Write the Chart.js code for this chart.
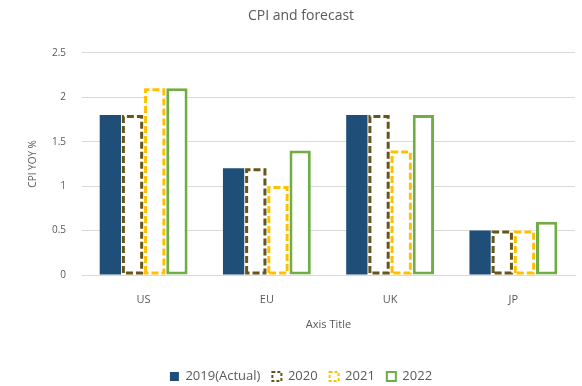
<!DOCTYPE html>
<html lang="en">
<head>
    <meta charset="utf-8">
    <title>CPI and forecast</title>
    <script src="https://cdn.jsdelivr.net/npm/chart.js"></script>
    <style>
        html, body { margin: 0; padding: 0; background: #fff; }
        #wrap { width: 582px; height: 386px; }
    </style>
</head>
<body>
<div id="wrap"><canvas id="cpiChart"></canvas></div>
<script>
    // CPI year over year, actual and forecast
    const regions = ['US', 'EU', 'UK', 'JP'];
    const cpi2019 = [1.8, 1.2, 1.8, 0.5];
    const cpi2020 = [1.8, 1.2, 1.8, 0.5];
    const cpi2021 = [2.1, 1.0, 1.4, 0.5];
    const cpi2022 = [2.1, 1.4, 1.8, 0.6];
    const yTicks = [0, 0.5, 1, 1.5, 2, 2.5];

    const textColor = '#595959';
    const fontFamily = "'Open Sans', 'Noto Sans', sans-serif";

    // bars don't support borderDash, so outline them here
    const dashedBars = {
        id: 'dashedBars',
        afterDatasetsDraw(chart) {
            const ctx = chart.ctx;
            chart.data.datasets.forEach((ds, i) => {
                if (!ds.dashOutline) return;
                const meta = chart.getDatasetMeta(i);
                ctx.save();
                ctx.strokeStyle = ds.dashOutline;
                ctx.lineWidth = 3;
                ctx.setLineDash([7, 3]);
                meta.data.forEach(bar => {
                    const p = bar.getProps(['x', 'y', 'base', 'width'], true);
                    const l = p.x - p.width / 2 + 1.5;
                    const r = p.x + p.width / 2 - 1.5;
                    const t = p.y + 1.5;
                    const b = p.base - 1.5;
                    ctx.beginPath();
                    ctx.moveTo(l, b);
                    ctx.lineTo(l, t);
                    ctx.lineTo(r, t);
                    ctx.lineTo(r, b);
                    ctx.closePath();
                    ctx.stroke();
                });
                ctx.restore();
            });
        }
    };

    new Chart(document.getElementById('cpiChart'), {
        type: 'bar',
        data: {
            labels: regions,
            datasets: [
                { label: '2019(Actual)', data: cpi2019, backgroundColor: '#1f4e79', borderWidth: 0 },
                { label: '2020', data: cpi2020, backgroundColor: '#ffffff', borderWidth: 0, dashOutline: '#66551c' },
                { label: '2021', data: cpi2021, backgroundColor: '#ffffff', borderWidth: 0, dashOutline: '#ffc000' },
                {
                    label: '2022', data: cpi2022, backgroundColor: '#ffffff',
                    borderColor: '#70ad47', borderWidth: 3, borderSkipped: false
                }
            ]
        },
        plugins: [dashedBars],
        options: {
            responsive: true,
            maintainAspectRatio: false,
            animation: false,
            layout: { padding: { left: 27, right: 7, bottom: -7 } },
            datasets: { bar: { categoryPercentage: 0.72, barPercentage: 0.96 } },
            plugins: {
                title: {
                    display: true,
                    text: 'CPI and forecast',
                    color: textColor,
                    font: { family: fontFamily, size: 14, weight: 'normal' },
                    padding: { top: 8, bottom: 28 }
                },
                legend: {
                    position: 'bottom',
                    labels: {
                        color: textColor,
                        font: { family: fontFamily, size: 13 },
                        boxWidth: 9,
                        boxHeight: 9,
                        padding: 12,
                        generateLabels(chart) {
                            return chart.data.datasets.map((ds, i) => ({
                                text: ds.label,
                                datasetIndex: i,
                                fillStyle: i === 0 ? '#1f4e79' : '#ffffff',
                                strokeStyle: ds.dashOutline || ds.borderColor || '#1f4e79',
                                lineWidth: i === 0 ? 0 : 2,
                                lineDash: ds.dashOutline ? [3, 2] : [],
                                fontColor: textColor
                            }));
                        }
                    }
                },
                tooltip: { enabled: false }
            },
            scales: {
                x: {
                    grid: { display: false },
                    border: { color: '#d9d9d9' },
                    ticks: { color: textColor, font: { family: fontFamily, size: 11 }, padding: 10 },
                    title: {
                        display: true,
                        text: 'Axis Title',
                        color: textColor,
                        font: { family: fontFamily, size: 11 },
                        padding: { top: 4, bottom: 27 }
                    },
                    afterFit(scale) { scale.height = 83; }
                },
                y: {
                    min: 0,
                    max: 2.5,
                    afterBuildTicks(scale) { scale.ticks = yTicks.map(v => ({ value: v })); },
                    grid: { color: '#d9d9d9', drawTicks: false },
                    border: { display: false },
                    ticks: {
                        color: textColor,
                        font: { family: fontFamily, size: 10 },
                        padding: 16,
                        callback: v => String(v)
                    },
                    title: {
                        display: true,
                        text: 'CPI YOY %',
                        color: textColor,
                        font: { family: fontFamily, size: 10 },
                        padding: { top: 0, bottom: 6 }
                    },
                    afterFit(scale) { scale.width = 55; }
                }
            }
        }
    });
</script>
</body>
</html>
